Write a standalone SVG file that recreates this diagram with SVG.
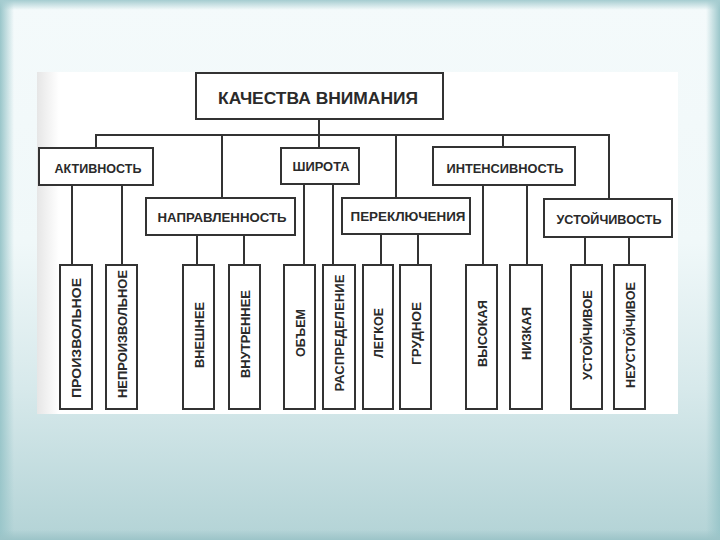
<svg xmlns="http://www.w3.org/2000/svg" width="720" height="540" viewBox="0 0 720 540">
<defs>
<linearGradient id="bg" x1="0" y1="0" x2="0" y2="1">
<stop offset="0" stop-color="#f4fafb"/>
<stop offset="0.45" stop-color="#f0f8f9"/>
<stop offset="0.72" stop-color="#d7e9eb"/>
<stop offset="1" stop-color="#b3d3d6"/>
</linearGradient>
<linearGradient id="edgeL" x1="0" y1="0" x2="1" y2="0">
<stop offset="0" stop-color="#9ac6ca"/>
<stop offset="1" stop-color="#9ac6ca" stop-opacity="0"/>
</linearGradient>
<linearGradient id="edgeR" x1="1" y1="0" x2="0" y2="0">
<stop offset="0" stop-color="#9ac6ca"/>
<stop offset="1" stop-color="#9ac6ca" stop-opacity="0"/>
</linearGradient>
<linearGradient id="edgeT" x1="0" y1="0" x2="0" y2="1">
<stop offset="0" stop-color="#a5ccd0"/>
<stop offset="1" stop-color="#a5ccd0" stop-opacity="0"/>
</linearGradient>
<linearGradient id="edgeB" x1="0" y1="1" x2="0" y2="0">
<stop offset="0" stop-color="#9cc4c8"/>
<stop offset="1" stop-color="#9cc4c8" stop-opacity="0"/>
</linearGradient>
<linearGradient id="scan" x1="0" y1="0" x2="1" y2="0">
<stop offset="0" stop-color="#e6e6e6"/>
<stop offset="1" stop-color="#ffffff"/>
</linearGradient>
</defs>
<style>
.box{fill:#ffffff;stroke:#333;stroke-width:2}
.ln{fill:none;stroke:#333;stroke-width:2}
.t{font-family:"Liberation Sans",Arial,sans-serif;font-weight:bold;fill:#2a2a2a;text-anchor:middle}
.h{font-size:13.5px}
.v{font-size:13.5px}
</style>
<rect x="0" y="0" width="720" height="540" fill="url(#bg)"/>
<rect x="0" y="0" width="14" height="540" fill="url(#edgeL)"/>
<rect x="706" y="0" width="14" height="540" fill="url(#edgeR)"/>
<rect x="0" y="0" width="720" height="10" fill="url(#edgeT)"/>
<rect x="0" y="530" width="720" height="10" fill="url(#edgeB)"/>
<rect x="37" y="72" width="641" height="342" fill="#ffffff"/>
<rect x="37" y="72" width="22" height="342" fill="url(#scan)"/>

<g id="connectors">
<path class="ln" d="M319 119 V148"/>
<path class="ln" d="M96 148 V135 H609 V199"/>
<path class="ln" d="M222 135 V198"/>
<path class="ln" d="M396 135 V198"/>
<path class="ln" d="M503 135 V147"/>
<path class="ln" d="M72 185 V265 M122 185 V265"/>
<path class="ln" d="M197 235 V265 M244 235 V265"/>
<path class="ln" d="M304 184 V265 M333 184 V265"/>
<path class="ln" d="M381 234 V265 M418 234 V265"/>
<path class="ln" d="M483 185 V265 M527 185 V265"/>
<path class="ln" d="M585 237 V265 M629 237 V265"/>
</g>

<g id="root"><rect class="box" x="196" y="73" width="247" height="46"/><text class="t" x="318" y="103.5" style="font-size:16px" textLength="200" lengthAdjust="spacingAndGlyphs">КАЧЕСТВА  ВНИМАНИЯ</text></g>

<g id="aktivnost"><rect class="box" x="39" y="148" width="114" height="37"/><text class="t h" x="98" y="173" textLength="87" lengthAdjust="spacingAndGlyphs">АКТИВНОСТЬ</text></g>
<g id="napravlennost"><rect class="box" x="146" y="198" width="149" height="37"/><text class="t h" x="222" y="222" textLength="129" lengthAdjust="spacingAndGlyphs">НАПРАВЛЕННОСТЬ</text></g>
<g id="shirota"><rect class="box" x="281" y="148" width="78" height="36"/><text class="t h" x="321" y="171" textLength="57" lengthAdjust="spacingAndGlyphs">ШИРОТА</text></g>
<g id="pereklyucheniya"><rect class="box" x="342" y="198" width="128" height="36"/><text class="t h" x="408" y="221" textLength="115" lengthAdjust="spacingAndGlyphs">ПЕРЕКЛЮЧЕНИЯ</text></g>
<g id="intensivnost"><rect class="box" x="433" y="147" width="142" height="38"/><text class="t h" x="505" y="173" textLength="117" lengthAdjust="spacingAndGlyphs">ИНТЕНСИВНОСТЬ</text></g>
<g id="ustoychivost"><rect class="box" x="544" y="199" width="128" height="38"/><text class="t h" x="609" y="224" textLength="105" lengthAdjust="spacingAndGlyphs">УСТОЙЧИВОСТЬ</text></g>

<g id="leaf1"><rect class="box" x="60" y="265" width="32" height="144"/><text class="t v" transform="translate(76,338) rotate(-90)" y="5" textLength="120" lengthAdjust="spacingAndGlyphs">ПРОИЗВОЛЬНОЕ</text></g>
<g id="leaf2"><rect class="box" x="106" y="265" width="31" height="144"/><text class="t v" transform="translate(121.5,334) rotate(-90)" y="5" textLength="128" lengthAdjust="spacingAndGlyphs">НЕПРОИЗВОЛЬНОЕ</text></g>
<g id="leaf3"><rect class="box" x="183" y="265" width="31" height="144"/><text class="t v" transform="translate(198.5,335) rotate(-90)" y="5" textLength="66" lengthAdjust="spacingAndGlyphs">ВНЕШНЕЕ</text></g>
<g id="leaf4"><rect class="box" x="229" y="265" width="31" height="144"/><text class="t v" transform="translate(244.5,334) rotate(-90)" y="5" textLength="88" lengthAdjust="spacingAndGlyphs">ВНУТРЕННЕЕ</text></g>
<g id="leaf5"><rect class="box" x="284" y="265" width="31" height="144"/><text class="t v" transform="translate(299.5,333) rotate(-90)" y="5" textLength="48" lengthAdjust="spacingAndGlyphs">ОБЪЕМ</text></g>
<g id="leaf6"><rect class="box" x="323" y="265" width="32" height="144"/><text class="t v" transform="translate(339,333) rotate(-90)" y="5" textLength="117" lengthAdjust="spacingAndGlyphs">РАСПРЕДЕЛЕНИЕ</text></g>
<g id="leaf7"><rect class="box" x="363" y="265" width="30" height="144"/><text class="t v" transform="translate(378,333) rotate(-90)" y="5" textLength="50" lengthAdjust="spacingAndGlyphs">ЛЕГКОЕ</text></g>
<g id="leaf8"><rect class="box" x="400" y="265" width="31" height="144"/><text class="t v" transform="translate(415.5,333.5) rotate(-90)" y="5" textLength="63" lengthAdjust="spacingAndGlyphs">ГРУДНОЕ</text></g>
<g id="leaf9"><rect class="box" x="466" y="265" width="31" height="144"/><text class="t v" transform="translate(481.5,333.5) rotate(-90)" y="5" textLength="67" lengthAdjust="spacingAndGlyphs">ВЫСОКАЯ</text></g>
<g id="leaf10"><rect class="box" x="510" y="265" width="32" height="144"/><text class="t v" transform="translate(526,333.5) rotate(-90)" y="5" textLength="53" lengthAdjust="spacingAndGlyphs">НИЗКАЯ</text></g>
<g id="leaf11"><rect class="box" x="571" y="265" width="31" height="144"/><text class="t v" transform="translate(586.5,335) rotate(-90)" y="5" textLength="90" lengthAdjust="spacingAndGlyphs">УСТОЙЧИВОЕ</text></g>
<g id="leaf12"><rect class="box" x="614" y="265" width="31" height="144"/><text class="t v" transform="translate(629.5,335) rotate(-90)" y="5" textLength="106" lengthAdjust="spacingAndGlyphs">НЕУСТОЙЧИВОЕ</text></g>
</svg>
